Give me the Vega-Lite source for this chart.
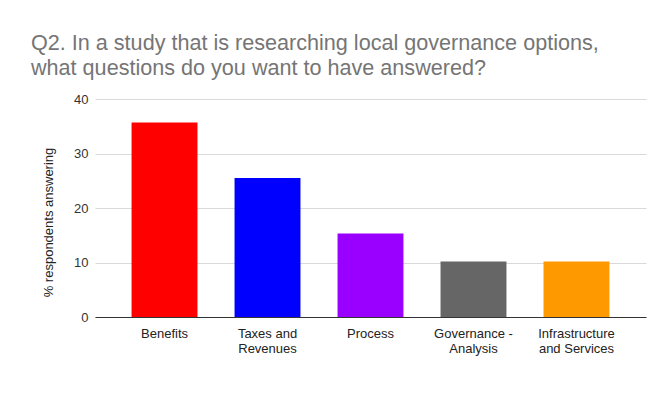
{
  "$schema": "https://vega.github.io/schema/vega-lite/v6.json",
  "width": 551,
  "height": 218,
  "autosize": {"type": "none"},
  "padding": {"left": 95, "top": 99, "right": 15, "bottom": 89},
  "background": "white",
  "title": {
    "text": ["Q2. In a study that is researching local governance options,", "what questions do you want to have answered?"],
    "anchor": "start",
    "frame": "group",
    "dx": -64,
    "font": "Liberation Sans",
    "fontSize": 21.6,
    "fontWeight": "normal",
    "color": "#757575",
    "lineHeight": 25,
    "offset": 13
  },
  "data": {
    "values": [
      {"category": "Benefits", "percent": 35.7},
      {"category": "Taxes and Revenues", "percent": 25.5},
      {"category": "Process", "percent": 15.3},
      {"category": "Governance - Analysis", "percent": 10.2},
      {"category": "Infrastructure and Services", "percent": 10.2}
    ]
  },
  "mark": {"type": "bar"},
  "encoding": {
    "x": {
      "field": "category",
      "type": "nominal",
      "sort": null,
      "scale": {"paddingInner": 0.36, "paddingOuter": 0.355},
      "axis": {
        "title": null,
        "labelAngle": 0,
        "labelFont": "Liberation Sans",
        "labelFontSize": 13,
        "labelColor": "#222222",
        "labelPadding": 10,
        "labelLineHeight": 15,
        "labelExpr": "datum.label == 'Taxes and Revenues' ? ['Taxes and', 'Revenues'] : datum.label == 'Governance - Analysis' ? ['Governance -', 'Analysis'] : datum.label == 'Infrastructure and Services' ? ['Infrastructure', 'and Services'] : datum.label",
        "ticks": false,
        "domainColor": "#333333",
        "domainWidth": 1,
        "grid": false
      }
    },
    "y": {
      "field": "percent",
      "type": "quantitative",
      "scale": {"domain": [0, 40]},
      "axis": {
        "title": "% respondents answering",
        "titleFont": "Liberation Sans",
        "titleFontSize": 13,
        "titleFontWeight": "normal",
        "titleColor": "#222222",
        "titleAngle": -90,
        "titleAlign": "center",
        "titleBaseline": "alphabetic",
        "titleX": -43,
        "titleY": 123,
        "values": [0, 10, 20, 30, 40],
        "labelFont": "Liberation Sans",
        "labelFontSize": 13,
        "labelColor": "#333333",
        "labelPadding": 7,
        "ticks": false,
        "domain": false,
        "gridColor": "#d9d9d9",
        "gridWidth": 1
      }
    },
    "color": {
      "field": "category",
      "type": "nominal",
      "sort": null,
      "scale": {
        "domain": ["Benefits", "Taxes and Revenues", "Process", "Governance - Analysis", "Infrastructure and Services"],
        "range": ["#ff0000", "#0000ff", "#9900ff", "#666666", "#ff9900"]
      },
      "legend": null
    }
  },
  "config": {"view": {"stroke": null}}
}
